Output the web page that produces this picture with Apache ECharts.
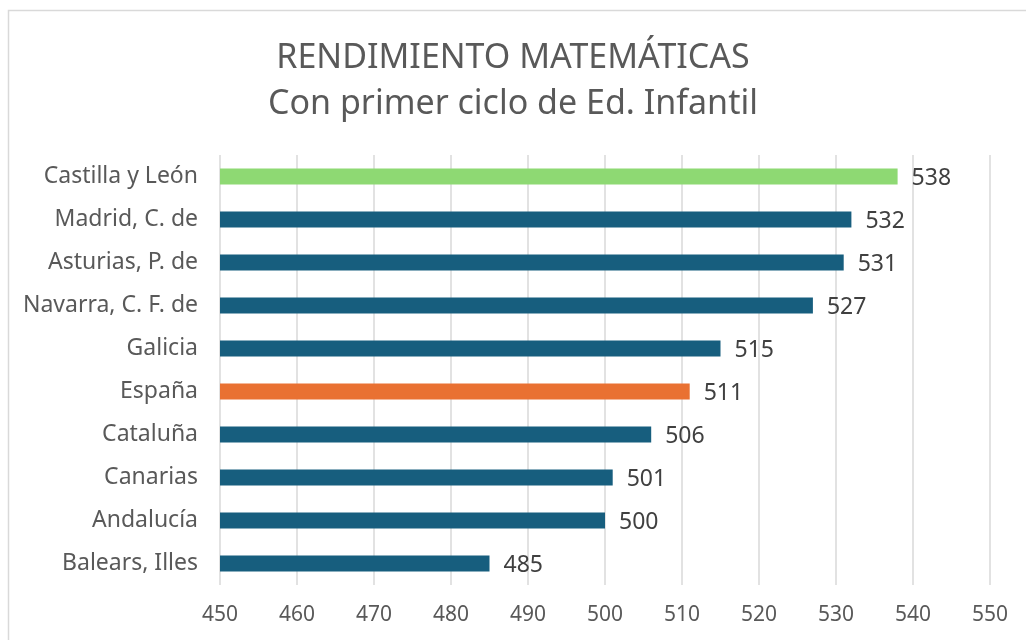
<!DOCTYPE html>
<html>
<head>
<meta charset="utf-8">
<script src="https://cdn.jsdelivr.net/npm/echarts@6/dist/echarts.min.js"></script>
<style>
html,body{margin:0;padding:0;background:#fff;}
#chart{width:1026px;height:640px;}
</style>
</head>
<body>
<div id="chart"></div>
<script>
// Regions, listed bottom to top (category axis is drawn upward)
const regions = ['Balears, Illes', 'Andalucía', 'Canarias', 'Cataluña', 'España',
  'Galicia', 'Navarra, C. F. de', 'Asturias, P. de', 'Madrid, C. de', 'Castilla y León'];
const scores = [485, 500, 501, 506, 511, 515, 527, 531, 532, 538];
const axisTicks = [450, 460, 470, 480, 490, 500, 510, 520, 530, 540, 550];

const BLUE = '#175E7E', GREEN = '#8ED973', ORANGE = '#E97132';
function barColor(name) {
  if (name === 'Castilla y León') return GREEN;
  if (name === 'España') return ORANGE;
  return BLUE;
}

const chart = echarts.init(document.getElementById('chart'));
chart.setOption({
  animation: false,
  backgroundColor: '#fff',
  graphic: [{
    type: 'rect',
    shape: { x: 8.5, y: 10.5, width: 1040, height: 660 },
    style: { fill: 'none', stroke: '#d9d9d9', lineWidth: 1.5 },
    silent: true
  }],
  title: {
    text: 'RENDIMIENTO MATEMÁTICAS\nCon primer ciclo de Ed. Infantil',
    left: 'center',
    top: 30,
    textStyle: {
      fontFamily: 'Noto Sans, sans-serif',
      fontSize: 34,
      fontWeight: 'normal',
      color: '#595959',
      lineHeight: 46
    }
  },
  grid: { left: 220, right: 36, top: 155, bottom: 55, containLabel: false },
  xAxis: {
    type: 'value',
    min: axisTicks[0],
    max: axisTicks[axisTicks.length - 1],
    interval: axisTicks[1] - axisTicks[0],
    axisLine: { show: false },
    axisTick: { show: false },
    splitLine: { lineStyle: { color: '#d9d9d9', width: 1.5 } },
    axisLabel: {
      margin: 20,
      fontFamily: 'Noto Sans, sans-serif',
      fontSize: 21,
      color: '#595959'
    }
  },
  yAxis: {
    type: 'category',
    data: regions,
    axisLine: { show: false },
    axisTick: { show: false },
    axisLabel: {
      margin: 22,
      fontFamily: 'Noto Sans, sans-serif',
      fontSize: 23,
      color: '#595959',
      padding: [3, 0, 0, 0]
    }
  },
  series: [{
    type: 'bar',
    data: scores.map((v, i) => ({ value: v, itemStyle: { color: barColor(regions[i]) } })),
    barWidth: '37%',
    label: {
      show: true,
      position: 'right',
      distance: 14,
      fontFamily: 'Noto Sans, sans-serif',
      fontSize: 23,
      color: '#404040',
      offset: [0, 2]
    }
  }]
});
</script>
</body>
</html>
